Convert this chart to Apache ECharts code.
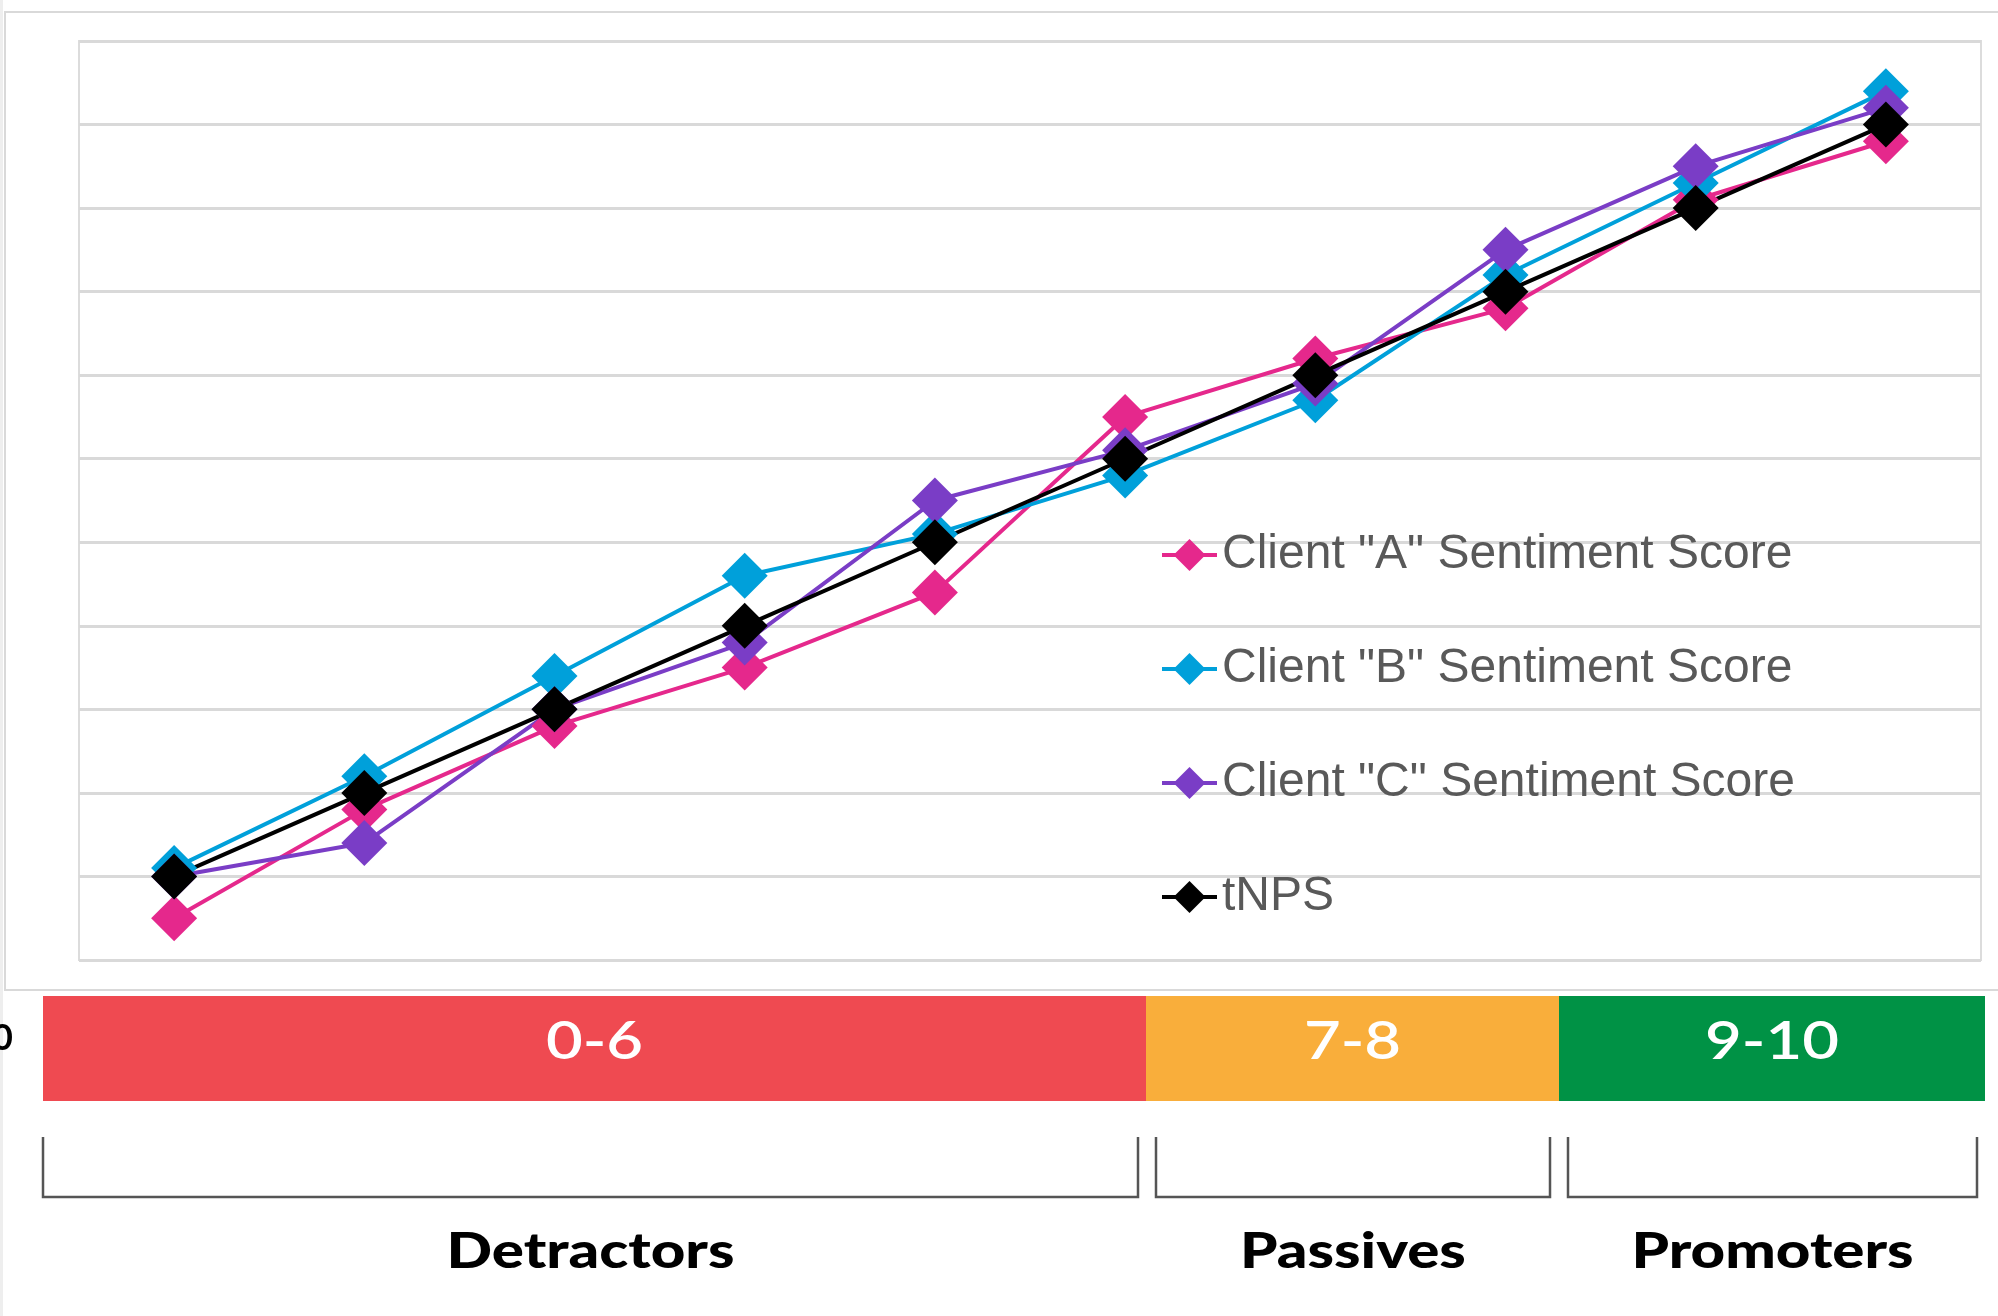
<!DOCTYPE html>
<html>
<head>
<meta charset="utf-8">
<script src="https://cdn.jsdelivr.net/npm/echarts@6/dist/echarts.min.js"></script>
<style>
  html, body { margin: 0; padding: 0; background: #fff; }
  #main { width: 1998px; height: 1316px; }
</style>
</head>
<body>
<div id="main"></div>
<script>
// scores along the x axis (labels hidden in the original)
var categories = ["1", "2", "3", "4", "5", "6", "7", "8", "9", "10"];

var seriesNames = [
  'Client "A" Sentiment Score',
  'Client "B" Sentiment Score',
  'Client "C" Sentiment Score',
  "tNPS",
];
var clientA = [0.5, 1.8, 2.8, 3.5, 4.4, 6.5, 7.2, 7.8, 9.1, 9.8];
var clientB = [1.1, 2.2, 3.4, 4.6, 5.1, 5.8, 6.7, 8.2, 9.3, 10.4];
var clientC = [1.0, 1.4, 3.0, 3.8, 5.5, 6.1, 6.9, 8.5, 9.5, 10.2];
var tnps = [1, 2, 3, 4, 5, 6, 7, 8, 9, 10];

var bandLabels = ["0-6", "7-8", "9-10"];
var bandNames = ["Detractors", "Passives", "Promoters"];

var colors = ["#e5288c", "#00a0da", "#7a3dc6", "#000000"];
var bandColors = ["#ef4a51", "#f9ae3b", "#009245"];

var chart = echarts.init(document.getElementById("main"));

// layout of the colour band under the chart (pixels)
var bandX = [43, 1146, 1559, 1985];
var bandTop = 996;
var bandBottom = 1101;
var bracketX = [[43, 1138], [1156, 1550], [1568, 1977]];
var bracketTop = 1137;
var bracketBottom = 1197;

var graphics = [
  {
    type: "rect",
    shape: { x: 0, y: 0, width: 3, height: 1316 },
    style: { fill: "#eeeeee" },
    silent: true,
  },
  {
    type: "rect",
    shape: { x: 5, y: 12, width: 2100, height: 978 },
    style: { fill: "none", stroke: "#d9d9d9", lineWidth: 2 },
    silent: true,
  },
  {
    type: "text",
    x: -8,
    y: 1038,
    style: {
      text: "0",
      fill: "#000",
      font: "bold 36px Lato",
      verticalAlign: "middle",
      textVerticalAlign: "middle",
    },
  },
];

bandLabels.forEach(function (label, i) {
  var x0 = bandX[i];
  var x1 = bandX[i + 1];
  graphics.push({
    type: "rect",
    shape: { x: x0, y: bandTop, width: x1 - x0, height: bandBottom - bandTop },
    style: { fill: bandColors[i] },
  });
  graphics.push({
    type: "text",
    x: (x0 + x1) / 2,
    y: (bandTop + bandBottom) / 2 - 6,
    scaleX: 1.22,
    style: {
      text: label,
      fill: "#fff",
      font: "600 52px Lato",
      align: "center",
      verticalAlign: "middle",
      textAlign: "center",
      textVerticalAlign: "middle",
    },
  });
  var b = bracketX[i];
  graphics.push({
    type: "polyline",
    shape: {
      points: [
        [b[0], bracketTop],
        [b[0], bracketBottom],
        [b[1], bracketBottom],
        [b[1], bracketTop],
      ],
    },
    style: { stroke: "#555", lineWidth: 2.5, fill: "none" },
  });
  graphics.push({
    type: "text",
    x: (b[0] + b[1]) / 2,
    y: 1252,
    scaleX: 1.2,
    style: {
      text: bandNames[i],
      fill: "#000",
      font: "900 50px Lato",
      align: "center",
      verticalAlign: "middle",
      textAlign: "center",
      textVerticalAlign: "middle",
    },
  });
});

var seriesData = [clientA, clientB, clientC, tnps];

chart.setOption({
  animation: false,
  backgroundColor: "#fff",
  color: colors,
  grid: {
    left: 79,
    top: 41,
    right: 17,
    bottom: 356,
    show: true,
    borderColor: "#dcdcdc",
    borderWidth: 2,
  },
  legend: {
    orient: "vertical",
    left: 1155,
    top: 526,
    padding: 5,
    itemWidth: 55,
    itemHeight: 40,
    itemGap: 66,
    lineStyle: { width: 4 },
    textStyle: {
      fontFamily: "Liberation Sans, Arial",
      fontSize: 48,
      color: "#595959",
    },
    data: seriesNames,
  },
  xAxis: {
    type: "category",
    data: categories,
    axisLine: { show: false },
    axisTick: { show: false },
    axisLabel: { show: false },
  },
  yAxis: {
    type: "value",
    min: 0,
    max: 11,
    interval: 1,
    axisLine: { show: false },
    axisTick: { show: false },
    axisLabel: { show: false },
    splitLine: { lineStyle: { color: "#d9d9d9", width: 3 } },
  },
  series: seriesNames.map(function (name, i) {
    return {
      name: name,
      type: "line",
      data: seriesData[i],
      symbol: "diamond",
      symbolSize: 46,
      lineStyle: { width: 4, color: colors[i] },
      itemStyle: { color: colors[i] },
    };
  }),
  graphic: { elements: graphics },
});
</script>
</body>
</html>
